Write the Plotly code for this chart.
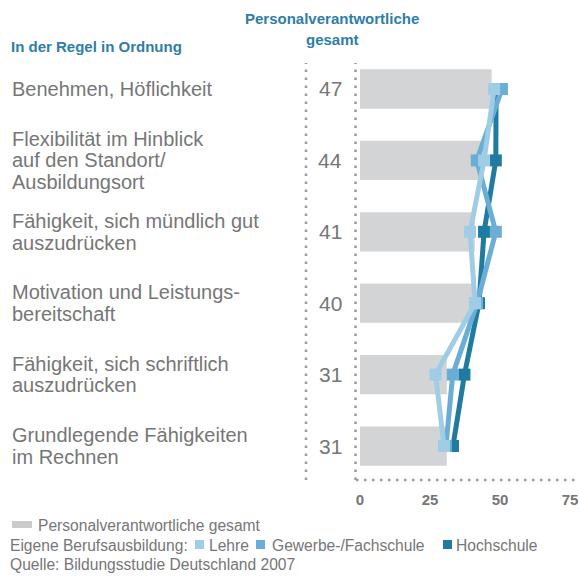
import plotly.graph_objects as go

# ---------------- data ----------------
categories = [
    "Benehmen, Höflichkeit",
    "Flexibilität im Hinblick<br>auf den Standort/<br>Ausbildungsort",
    "Fähigkeit, sich mündlich gut<br>auszudrücken",
    "Motivation und Leistungs-<br>bereitschaft",
    "Fähigkeit, sich schriftlich<br>auszudrücken",
    "Grundlegende Fähigkeiten<br>im Rechnen",
]
gesamt = [47, 44, 41, 40, 31, 31]
lehre = [47.9, 44.3, 39.3, 41.1, 27.0, 30.0]
gewerbe = [50.7, 41.7, 48.5, 41.8, 33.1, 30.7]
hochschule = [48.6, 48.5, 44.3, 42.5, 37.3, 33.2]
x_ticks = [0, 25, 50, 75]

# ---------------- styling ----------------
W, H = 579, 576
L, R, T, B = 355, 0, 63, 96
PW, PH = W - L - R, H - T - B

def px_x(p):
    return (p - L) / PW

def px_y(p):
    return (H - B - p) / PH

GRAY_TXT = "#767676"
BLUE_HEAD = "#2e7ea6"
C_LEHRE = "#9fcde6"
C_GEW = "#6aaed5"
C_HOCH = "#1f7ba0"
C_BAR = "#d3d4d5"
SANS = "Liberation Sans, Arial, sans-serif"
NARROW = "Liberation Sans Narrow, Arial Narrow, Liberation Sans, sans-serif"

fig = go.Figure()

fig.add_trace(go.Bar(
    x=gesamt, y=categories, orientation="h", width=0.55,
    marker=dict(color=C_BAR, line=dict(width=0)),
    name="Personalverantwortliche gesamt", hoverinfo="x",
))

for vals, col, name in [(hochschule, C_HOCH, "Hochschule"),
                        (gewerbe, C_GEW, "Gewerbe-/Fachschule"),
                        (lehre, C_LEHRE, "Lehre")]:
    fig.add_trace(go.Scatter(
        x=vals, y=categories, mode="lines+markers", name=name,
        line=dict(color=col, width=5),
        marker=dict(symbol="square", size=12, color=col, line=dict(width=0)),
    ))

annotations = []
# category labels, one annotation per line
LH = 21.5
for cat in categories:
    lines = cat.split("<br>")
    n = len(lines)
    for i, ln in enumerate(lines):
        annotations.append(dict(
            x=px_x(10), xref="paper", y=cat, yref="y", xanchor="left", yanchor="middle",
            yshift=((n - 1) / 2 - i) * LH, text=ln, showarrow=False,
            font=dict(family=SANS, size=20, color=GRAY_TXT),
        ))
# value labels
for cat, v in zip(categories, gesamt):
    annotations.append(dict(
        x=px_x(344), xref="paper", y=cat, yref="y", xanchor="right", yanchor="middle",
        text=str(v), showarrow=False,
        font=dict(family=SANS, size=21, color=GRAY_TXT),
    ))
# headers
HEAD_FONT = dict(family=NARROW, size=15, color=BLUE_HEAD, weight="bold")
annotations.append(dict(
    x=px_x(9), xref="paper", y=px_y(46), yref="paper", xanchor="left", yanchor="middle",
    text="In der Regel in Ordnung", showarrow=False, font=HEAD_FONT,
))
annotations.append(dict(
    x=px_x(332), xref="paper", y=px_y(19), yref="paper", xanchor="center", yanchor="middle",
    text="Personalverantwortliche", showarrow=False, font=HEAD_FONT,
))
annotations.append(dict(
    x=px_x(332), xref="paper", y=px_y(40), yref="paper", xanchor="center", yanchor="middle",
    text="gesamt", showarrow=False, font=HEAD_FONT,
))
# legend / footer texts
LEG_FONT = dict(family=SANS, size=15.6, color=GRAY_TXT)
foot = [
    (36, 525, "Personalverantwortliche gesamt"),
    (8, 545, "Eigene Berufsausbildung:"),
    (207, 545, "Lehre"),
    (270, 545, "Gewerbe-/Fachschule"),
    (454, 545, "Hochschule"),
    (8, 564, "Quelle: Bildungsstudie Deutschland 2007"),
]
for x0, y0, t in foot:
    annotations.append(dict(
        x=px_x(x0), xref="paper", y=px_y(y0), yref="paper", xanchor="left", yanchor="middle",
        text=t, showarrow=False, font=LEG_FONT,
    ))

DOT = dict(color="#9b9b9b", width=2.5, dash="2.5px,5.5px")
shapes = [
    dict(type="line", xref="paper", yref="paper", x0=px_x(306), x1=px_x(306), y0=0, y1=1, line=DOT),
    dict(type="line", xref="paper", yref="paper", x0=px_x(355.5), x1=px_x(355.5), y0=0, y1=1, line=DOT),
    dict(type="line", xref="paper", yref="paper", x0=px_x(356), x1=1, y0=0, y1=0, line=DOT),
    # legend swatches
    dict(type="rect", xref="paper", yref="paper", x0=px_x(12), x1=px_x(32), y0=px_y(528), y1=px_y(521),
         fillcolor="#c9cacc", line=dict(width=0)),
    dict(type="rect", xref="paper", yref="paper", x0=px_x(195), x1=px_x(204), y0=px_y(549), y1=px_y(540),
         fillcolor=C_LEHRE, line=dict(width=0)),
    dict(type="rect", xref="paper", yref="paper", x0=px_x(256), x1=px_x(265), y0=px_y(549), y1=px_y(540),
         fillcolor=C_GEW, line=dict(width=0)),
    dict(type="rect", xref="paper", yref="paper", x0=px_x(443), x1=px_x(452), y0=px_y(549), y1=px_y(540),
         fillcolor=C_HOCH, line=dict(width=0)),
]

fig.update_layout(
    width=W, height=H,
    margin=dict(l=L, r=R, t=T, b=B, pad=0),
    paper_bgcolor="white", plot_bgcolor="white",
    showlegend=False,
    xaxis=dict(range=[-1.786, 78.21], tickvals=x_ticks, ticktext=[str(v) for v in x_ticks],
               showgrid=False, zeroline=False, showline=False,
               ticks="outside", ticklen=6, tickcolor="rgba(0,0,0,0)",
               tickfont=dict(family=SANS, size=15, color=GRAY_TXT, weight="bold"),
               fixedrange=True),
    yaxis=dict(type="category", categoryorder="array", categoryarray=categories,
               range=[5.476, -0.364], showticklabels=False, showgrid=False,
               zeroline=False, showline=False, fixedrange=True),
    annotations=annotations,
    shapes=shapes,
)

fig.write_html(
    "out.html",
    config={"displayModeBar": False},
    post_script="document.body.style.margin='0';document.body.style.overflow='hidden';",
)
